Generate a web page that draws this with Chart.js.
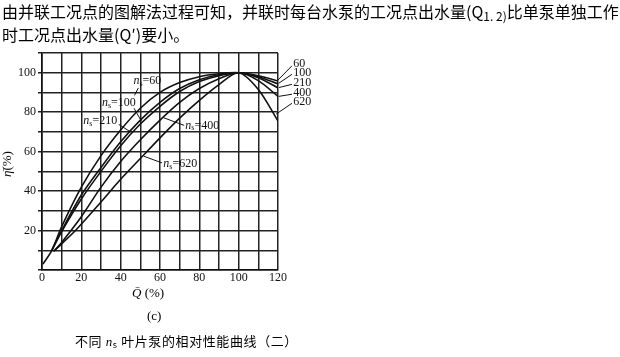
<!DOCTYPE html>
<html>
<head>
<meta charset="utf-8">
<script src="https://cdn.jsdelivr.net/npm/chart.js@4.4.1/dist/chart.umd.min.js"></script>
<style>
  html,body{margin:0;padding:0;background:#fff;}
  #wrap{position:relative;width:620px;height:357px;overflow:hidden;background:#fff;}
  #c{position:absolute;left:0;top:0;}
  .t{position:absolute;white-space:nowrap;color:#000;}
  #head{left:2px;top:0px;font:16px/23px "Noto Sans CJK SC",sans-serif;}
  #head sub{font-size:12px;vertical-align:-3px;line-height:0;}
  #xt{left:132px;top:285px;font:13px "Liberation Serif",serif;}
  #yt{left:7px;top:164px;font:13px "Liberation Serif",serif;transform:translate(-50%,-50%) rotate(-90deg);}
  #sub{left:147px;top:308px;font:13px "Liberation Serif",serif;}
  #cap{left:75px;top:331px;font:13px "Noto Sans CJK SC",sans-serif;letter-spacing:0.6px;}
  #cap i{font-family:"Liberation Serif",serif;}
  #cap sub{font-size:9px;vertical-align:-2px;line-height:0;}
</style>
</head>
<body>
<div id="wrap">
<canvas id="c" width="620" height="357"></canvas>
<div class="t" id="head">由并联工况点的图解法过程可知，并联时每台水泵的工况点出水量(Q<sub>1. 2)</sub>比单泵单独工作<br>时工况点出水量(Q′)要小。</div>
<div class="t" id="xt"><i>Q̄</i> (%)</div>
<div class="t" id="yt"><i>η̄</i>(%)</div>
<div class="t" id="sub">(c)</div>
<div class="t" id="cap">不同 <i>n</i><sub>s</sub> 叶片泵的相对性能曲线（二）</div>
</div>
<script>
// ---- data (relative flow Q %, relative efficiency η %) ----
const seriesNames = ['60', '100', '210', '400', '620'];
const q_ns60   = [0.5, 5, 10, 20, 30, 40, 50, 60, 70, 80, 90, 100, 110, 120];
const eta_ns60 = [3, 10, 22, 42, 58, 71, 82, 90, 95, 98, 99.5, 100, 98.5, 95.8];
const q_ns100   = [5, 10, 20, 30, 40, 50, 60, 70, 80, 90, 100, 110, 120];
const eta_ns100 = [10, 20, 38, 52, 65, 76, 85, 92, 96.5, 99, 100, 98, 94.3];
const q_ns210   = [5, 10, 20, 30, 40, 50, 60, 70, 80, 90, 100, 110, 120];
const eta_ns210 = [10, 19.5, 36, 50, 63, 74, 83, 90.5, 95.5, 98.5, 100, 97.5, 92.3];
const q_ns400   = [6, 10, 20, 30, 40, 50, 60, 70, 80, 90, 100, 110, 120];
const eta_ns400 = [9.5, 14, 27, 42, 55, 66, 76, 85, 92, 97, 100, 96, 88];
const q_ns620   = [6, 17, 30, 40, 50, 60, 70, 80, 90, 100, 110, 120];
const eta_ns620 = [9.5, 20, 34.5, 46, 56.5, 67, 77, 86, 94, 100, 91.5, 75.5];
const xTickLabels = [0, 20, 40, 60, 80, 100, 120];
const yTickLabels = [20, 40, 60, 80, 100];

const qSets = [q_ns60, q_ns100, q_ns210, q_ns400, q_ns620];
const etaSets = [eta_ns60, eta_ns100, eta_ns210, eta_ns400, eta_ns620];

// ---- annotation placement (data units) ----
const innerLabels = [
  {name: '60',  at: [46.5, 95.7], leader: [[49, 92.3], [47, 88.5]]},
  {name: '100', at: [30.5, 84.8], leader: [[46.8, 82], [50.5, 75.5]]},
  {name: '210', at: [21,   75.5], leader: [[39, 73.8], [45, 70]]},
  {name: '400', at: [72.9, 73.3], leader: [[72.3, 73.3], [61.8, 77.2]]},
  {name: '620', at: [61.7, 53.9], leader: [[61, 54.3], [51.7, 57.7]]}
];
const rightLabels = [
  {name: '60',  at: [127.8, 104.3], leader: [[127.1, 103.5], [119.5, 95.8]]},
  {name: '100', at: [127.8, 99.7],  leader: [[127.1, 99.2],  [120.3, 94.6]]},
  {name: '210', at: [127.8, 94.7],  leader: [[127.1, 94.1],  [120.5, 92.5]]},
  {name: '400', at: [127.8, 89.6],  leader: [[127.1, 89.1],  [120.3, 88.0]]},
  {name: '620', at: [127.8, 85.0],  leader: [[127.1, 84.5],  [119.0, 79.0]]}
];

const datasets = seriesNames.map((n, i) => ({
  label: 'ns=' + n,
  data: qSets[i].map((q, k) => ({x: q, y: etaSets[i][k]})),
  borderColor: '#111',
  borderWidth: 1.6,
  pointRadius: 0,
  tension: 0.3,
  fill: false
}));

const labelPlugin = {
  id: 'labels',
  afterDatasetsDraw(chart) {
    const {ctx, scales: {x, y}} = chart;
    ctx.save();
    ctx.strokeStyle = '#111';
    ctx.lineWidth = 1;
    ctx.fillStyle = '#111';
    ctx.textBaseline = 'middle';
    const line = (l) => {
      ctx.beginPath();
      ctx.moveTo(x.getPixelForValue(l[0][0]), y.getPixelForValue(l[0][1]));
      ctx.lineTo(x.getPixelForValue(l[1][0]), y.getPixelForValue(l[1][1]));
      ctx.stroke();
    };
    innerLabels.forEach(d => {
      let px = x.getPixelForValue(d.at[0]);
      const py = y.getPixelForValue(d.at[1]);
      ctx.font = 'italic 12px "Liberation Serif", serif';
      ctx.fillText('n', px, py);
      px += ctx.measureText('n').width;
      ctx.font = '8px "Liberation Serif", serif';
      ctx.fillText('s', px, py + 3);
      px += ctx.measureText('s').width;
      ctx.font = '12px "Liberation Serif", serif';
      ctx.fillText('=' + d.name, px, py);
      line(d.leader);
    });
    ctx.font = '12px "Liberation Serif", serif';
    rightLabels.forEach(d => {
      ctx.fillText(d.name, x.getPixelForValue(d.at[0]), y.getPixelForValue(d.at[1]));
      line(d.leader);
    });
    ctx.restore();
  }
};

new Chart(document.getElementById('c'), {
  type: 'line',
  data: {datasets},
  options: {
    responsive: false,
    animation: false,
    devicePixelRatio: 1,
    layout: {padding: {left: 0, top: 53, right: 342, bottom: 67}},
    plugins: {legend: {display: false}, tooltip: {enabled: false}},
    scales: {
      x: {
        type: 'linear', min: 0, max: 120,
        afterFit: s => { s.height = 20; },
        ticks: {
          stepSize: 10, autoSkip: false, maxRotation: 0, padding: 1,
          color: '#111', font: {family: '"Liberation Serif", serif', size: 12},
          callback: v => xTickLabels.includes(v) ? String(v) : ''
        },
        grid: {color: '#222', lineWidth: 1.5, drawTicks: false},
        border: {color: '#111', width: 1.6}
      },
      y: {
        type: 'linear', min: 0, max: 110,
        afterFit: s => { s.width = 42; },
        ticks: {
          stepSize: 10, autoSkip: false, padding: 2,
          color: '#111', font: {family: '"Liberation Serif", serif', size: 12},
          callback: v => yTickLabels.includes(v) ? String(v) : ''
        },
        grid: {color: '#222', lineWidth: 1.5, tickLength: 4},
        border: {color: '#111', width: 1.6}
      }
    }
  },
  plugins: [labelPlugin]
});
</script>
</body>
</html>
